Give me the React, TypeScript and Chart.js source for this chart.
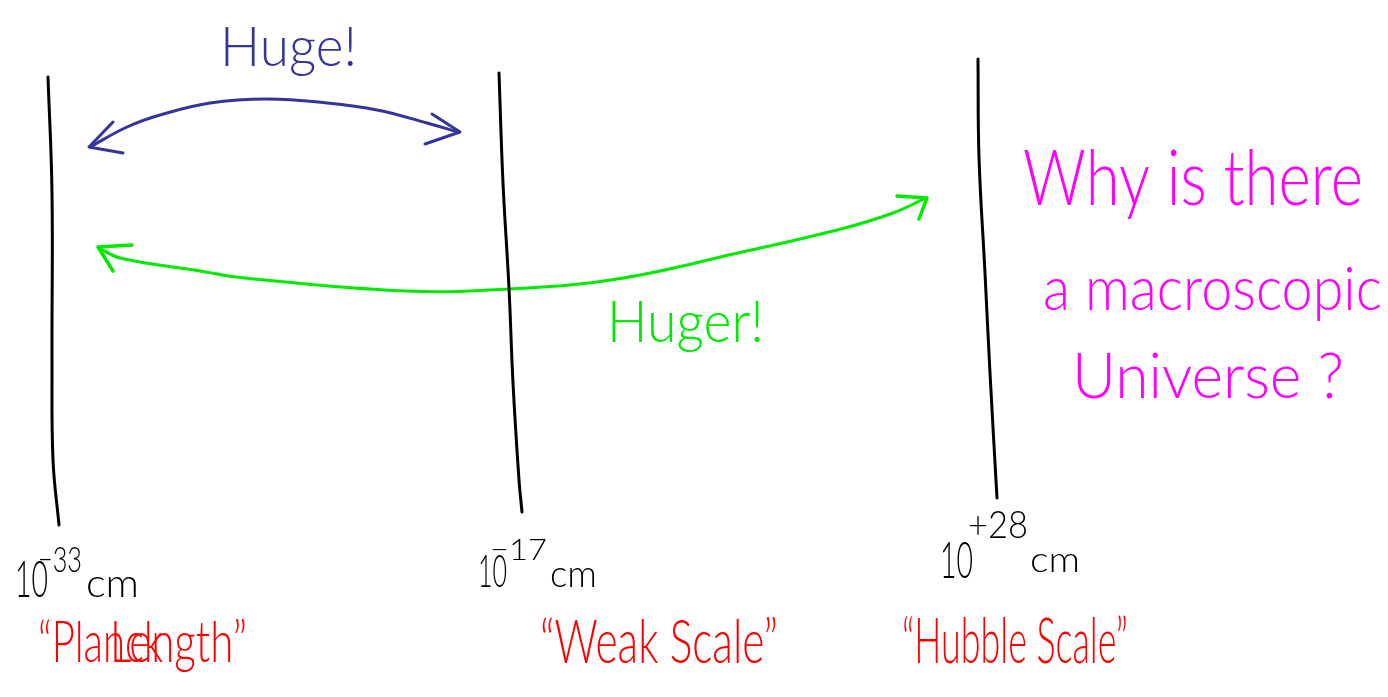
import React, { useEffect, useRef } from "react";
import { Chart, registerables } from "chart.js";

Chart.register(...registerables);

// ---- Data (diagram coordinates, x: 0..1388 left→right, y: 0..697 top→bottom) ----
const planckLine = [
  { x: 48, y: 77 }, { x: 52, y: 193 }, { x: 52, y: 360 }, { x: 53, y: 460 }, { x: 59, y: 525 },
];
const weakLine = [
  { x: 499, y: 73 }, { x: 503, y: 183 }, { x: 509, y: 288 }, { x: 513, y: 383 }, { x: 519, y: 480 }, { x: 522, y: 512 },
];
const hubbleLine = [
  { x: 978, y: 59 }, { x: 979, y: 157 }, { x: 985, y: 273 }, { x: 990, y: 373 }, { x: 997, y: 498 },
];
const hugeArc = [
  { x: 90, y: 147 }, { x: 127, y: 127 }, { x: 160, y: 115 }, { x: 210, y: 103 }, { x: 267, y: 99 },
  { x: 327, y: 103 }, { x: 377, y: 110 }, { x: 427, y: 123 }, { x: 458, y: 132 },
];
const hugeHeadLeft = [{ x: 113, y: 122 }, { x: 89, y: 147 }, { x: 123, y: 153 }];
const hugeHeadRight = [{ x: 432, y: 114 }, { x: 460, y: 132 }, { x: 425, y: 144 }];
const hugerArc = [
  { x: 99, y: 248 }, { x: 120, y: 258 }, { x: 200, y: 271 }, { x: 245, y: 278 }, { x: 406, y: 291 },
  { x: 509, y: 289 }, { x: 617, y: 279 }, { x: 738, y: 253 }, { x: 841, y: 229 }, { x: 893, y: 213 }, { x: 926, y: 198 },
];
const hugerHeadLeft = [{ x: 132, y: 245 }, { x: 98, y: 247 }, { x: 113, y: 271 }];
const hugerHeadRight = [{ x: 897, y: 196 }, { x: 927, y: 198 }, { x: 919, y: 219 }];

// ---- Text content ----
const labelTexts = [
  "Huge!",
  "Huger!",
  "Why is there",
  "a macroscopic",
  "Universe ?",
  "10", "\u221233", "cm",
  "10", "\u221217", "cm",
  "10", "+28", "cm",
  "\u201CPlanck", "Length\u201D",
  "\u201CWeak Scale\u201D",
  "\u201CHubble Scale\u201D",
];

// ---- Layout / styles for texts: [left x, baseline y, width, font size, colour] ----
const BLUE = "#34349a";
const GREEN = "#00ea00";
const MAGENTA = "#ff00ff";
const RED = "#ff0000";
const BLACK = "#000000";
const labelLayout: [number, number, number, number, string][] = [
  [220, 66, 137, 56, BLUE],
  [607, 342, 157, 58, GREEN],
  [1023, 205, 340, 76, MAGENTA],
  [1043, 310, 339, 62, MAGENTA],
  [1072, 398, 272, 64, MAGENTA],
  [15, 597, 33, 52, BLACK], [38, 572, 44, 36, BLACK], [86, 597, 53, 40, BLACK],
  [478, 587, 29, 46, BLACK], [490, 560, 57, 30, BLACK], [550, 587, 47, 38, BLACK],
  [940, 578, 33, 52, BLACK], [968, 538, 60, 38, BLACK], [1030, 572, 50, 36, BLACK],
  [38, 662, 125, 58, RED], [110, 662, 137, 58, RED],
  [540, 663, 238, 62, RED],
  [902, 663, 226, 64, RED],
];

const FONT = "Lato, 'Open Sans', 'DejaVu Sans', sans-serif";

const textPlugin = {
  id: "handText",
  afterDatasetsDraw(chart: any) {
    const { ctx, scales } = chart;
    labelTexts.forEach((t, i) => {
      const [lx, ly, w, size, color] = labelLayout[i];
      const px = scales.x.getPixelForValue(lx);
      const py = scales.y.getPixelForValue(ly);
      const px2 = scales.x.getPixelForValue(lx + w);
      ctx.save();
      ctx.font = `300 ${size}px ${FONT}`;
      ctx.fillStyle = color;
      ctx.textBaseline = "alphabetic";
      ctx.textAlign = "left";
      const m = ctx.measureText(t).width;
      ctx.translate(px, py);
      ctx.scale((px2 - px) / m, 1);
      ctx.fillText(t, 0, 0);
      ctx.restore();
    });
  },
};

function line(data: { x: number; y: number }[], color: string, width: number, tension: number) {
  return {
    data,
    showLine: true,
    borderColor: color,
    backgroundColor: color,
    borderWidth: width,
    pointRadius: 0,
    tension,
    borderCapStyle: "round" as const,
    borderJoinStyle: "round" as const,
    fill: false,
    clip: false as any,
  };
}

export default function App() {
  const canvasRef = useRef<HTMLCanvasElement | null>(null);

  useEffect(() => {
    const canvas = canvasRef.current;
    if (!canvas) return;
    const chart = new Chart(canvas, {
      type: "scatter",
      data: {
        datasets: [
          line(planckLine, BLACK, 3, 0.4),
          line(weakLine, BLACK, 3, 0.4),
          line(hubbleLine, BLACK, 3, 0.4),
          line(hugeArc, BLUE, 3, 0.4),
          line(hugeHeadLeft, BLUE, 3, 0),
          line(hugeHeadRight, BLUE, 3, 0),
          line(hugerArc, GREEN, 3, 0.4),
          line(hugerHeadLeft, GREEN, 3.5, 0),
          line(hugerHeadRight, GREEN, 3.5, 0),
        ] as any,
      },
      options: {
        animation: false,
        responsive: false,
        maintainAspectRatio: false,
        layout: { padding: 0 },
        events: [],
        scales: {
          x: { type: "linear", min: 0, max: 1388, display: false },
          y: { type: "linear", min: 0, max: 697, reverse: true, display: false },
        },
        plugins: {
          legend: { display: false },
          tooltip: { enabled: false },
          title: { display: false },
        },
      },
      plugins: [textPlugin],
    });
    return () => chart.destroy();
  }, []);

  return (
    <div style={{ position: "absolute", left: 0, top: 0, width: 1388, height: 697, background: "#ffffff" }}>
      <canvas ref={canvasRef} width={1388} height={697} />
    </div>
  );
}
